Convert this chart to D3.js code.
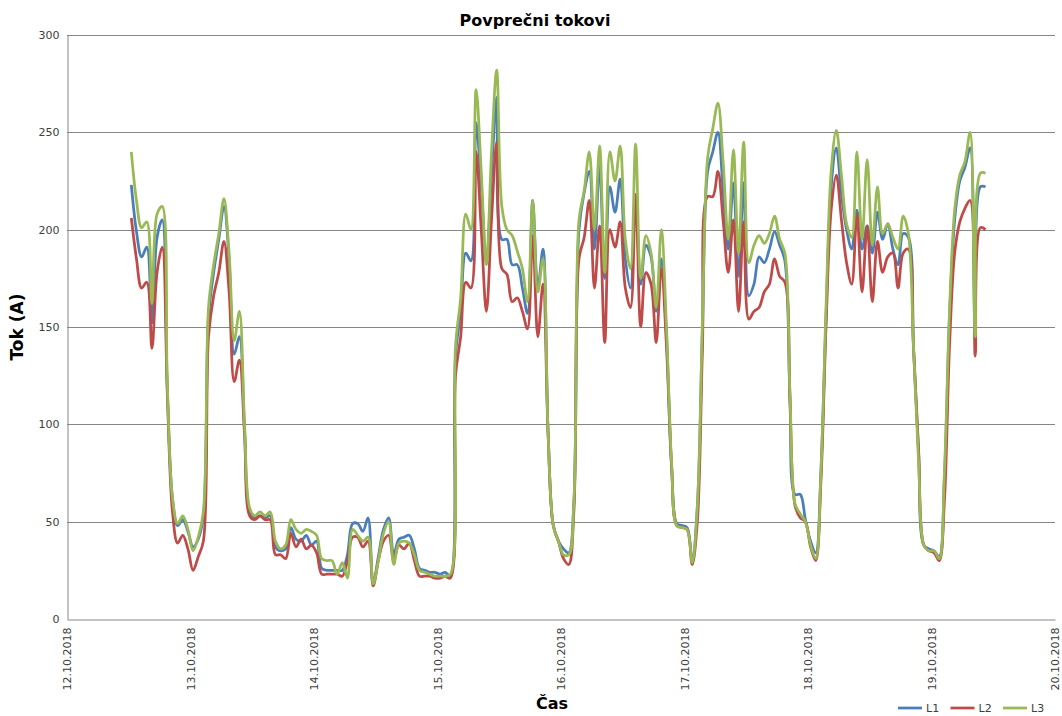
<!DOCTYPE html>
<html>
<head>
<meta charset="utf-8">
<script src="https://cdn.jsdelivr.net/npm/d3@7"></script>
<style>
  html, body { margin: 0; padding: 0; background: #fff; }
  svg { display: block; }
</style>
</head>
<body>
<svg id="chart" width="1062" height="716"></svg>
<script>
// Hourly average phase currents, first sample 12.10.2018 12:30
const seriesNames = ["L1", "L2", "L3"];
const seriesColors = ["#4a7ebb", "#be4b48", "#98b954"];
const yTicks = [0, 50, 100, 150, 200, 250, 300];
const dayTicks = ["12.10.2018", "13.10.2018", "14.10.2018", "15.10.2018", "16.10.2018", "17.10.2018", "18.10.2018", "19.10.2018", "20.10.2018"];

const L1 = [223,199,186,191,152,196,205,118,62,48,51,45,37,41,53,155,178,195,212,185,136,145,98,55,52,53,52,53,37,35,
  36,47,41,40,43,38,40,26,25,25,25,25,33,49,49,45,52,18,32,46,52,33,41,42,43,36,26,25,24,24,
  23,24,22,135,158,188,184,255,222,183,228,268,195,195,182,182,170,157,215,170,190,95,48,40,36,34,60,200,219,230,
  190,233,175,222,209,226,185,170,218,172,192,186,158,185,145,78,49,48,47,30,58,150,230,240,250,220,190,224,176,224,
  166,172,186,183,190,199,192,184,115,64,64,51,40,34,75,155,222,242,218,200,190,210,190,202,188,209,195,203,190,182,
  198,196,140,85,38,36,35,32,72,155,205,225,232,242,145,222,222];
const L2 = [206,185,170,173,139,178,191,115,55,39,43,36,25,32,40,145,166,178,194,168,122,133,95,53,51,53,51,51,33,33,
  31,44,37,41,36,38,34,23,23,23,23,22,30,42,42,37,40,17,30,40,43,30,38,36,39,30,22,22,22,21,
  21,22,21,125,145,173,170,240,200,158,205,245,180,177,163,165,158,149,197,145,172,95,48,40,31,28,55,185,196,215,
  170,202,142,200,191,204,170,160,218,150,178,172,142,180,140,78,48,47,46,28,50,140,217,217,230,205,178,205,158,204,
  154,158,160,168,172,185,176,173,110,58,52,50,37,30,70,150,210,228,205,183,172,208,168,202,163,194,178,186,188,170,
  188,190,140,86,38,35,34,30,60,140,188,204,211,215,135,201,200];
const L3 = [240,215,201,204,162,208,212,120,62,49,53,46,35,42,55,160,182,198,216,188,143,158,100,57,53,55,53,55,40,36,
  38,51,46,44,46,45,43,31,30,30,23,29,21,46,43,40,42,18,30,44,50,28,39,40,39,33,25,24,23,22,
  22,22,23,140,165,208,200,272,230,182,240,282,212,200,197,189,180,163,215,168,185,95,48,40,33,33,60,205,220,240,
  200,243,178,240,225,243,195,180,244,175,197,188,160,200,150,80,48,47,46,29,58,155,237,252,265,235,195,241,188,245,
  183,192,197,193,198,207,195,188,115,59,54,50,38,31,75,160,230,251,228,203,196,240,195,236,192,222,198,203,196,190,
  207,198,140,80,38,35,35,31,75,158,210,228,235,250,145,229,229];

const seriesValues = [L1, L2, L3];
const firstSample = new Date(2018, 9, 12, 12, 30);
const times = L1.map((_, i) => d3.timeHour.offset(firstSample, i));

const svg = d3.select("#chart");
const plot = { left: 67, right: 1055, top: 35, bottom: 619 };

const x = d3.scaleTime()
  .domain([new Date(2018, 9, 12), new Date(2018, 9, 20)])
  .range([plot.left, plot.right]);
const y = d3.scaleLinear().domain([0, 300]).range([plot.bottom, plot.top]);

const parseDay = d3.timeParse("%d.%m.%Y");
const axisColor = "#868686";
const labelFont = "'DejaVu Sans', Verdana, sans-serif";
const boldFont = "'DejaVu Sans', Verdana, sans-serif";

// horizontal gridlines
svg.append("g")
  .selectAll("line")
  .data(yTicks.filter(d => d > 0))
  .join("line")
  .attr("x1", plot.left).attr("x2", plot.right)
  .attr("y1", d => Math.round(y(d)) + 0.5).attr("y2", d => Math.round(y(d)) + 0.5)
  .attr("stroke", axisColor).attr("stroke-width", 1);

// y axis
const yAxis = svg.append("g")
  .attr("transform", `translate(${plot.left + 0.5},0)`)
  .call(d3.axisLeft(y).tickValues(yTicks).tickSize(0).tickPadding(8));
yAxis.select(".domain").attr("stroke", axisColor);
yAxis.selectAll("text")
  .attr("font-family", labelFont).attr("font-size", 11).attr("fill", "#404040");

// x axis
const xAxis = svg.append("g")
  .attr("transform", `translate(0,${plot.bottom + 0.5})`)
  .call(d3.axisBottom(x)
    .tickValues(dayTicks.map(parseDay))
    .tickFormat(d3.timeFormat("%d.%m.%Y"))
    .tickSize(0));
xAxis.select(".domain").attr("stroke", axisColor);
xAxis.selectAll("text")
  .attr("font-family", labelFont).attr("font-size", 11).attr("fill", "#404040")
  .attr("text-anchor", "end")
  .attr("dy", "0.35em")
  .attr("transform", "translate(0,8) rotate(-90)")
  .attr("x", 0).attr("y", 0);

// series lines
const line = d3.line()
  .x((d, i) => x(times[i]))
  .y(d => y(d))
  .curve(d3.curveCatmullRom.alpha(0.5));

svg.append("g")
  .selectAll("path")
  .data(seriesValues)
  .join("path")
  .attr("d", d => line(d))
  .attr("fill", "none")
  .attr("stroke", (d, i) => seriesColors[i])
  .attr("stroke-width", 2.75)
  .attr("stroke-linejoin", "round");

// titles
svg.append("text")
  .attr("x", 535).attr("y", 26)
  .attr("text-anchor", "middle")
  .attr("font-family", boldFont).attr("font-weight", "bold").attr("font-size", 16)
  .attr("fill", "#000")
  .text("Povprečni tokovi");

svg.append("text")
  .attr("transform", `translate(23,${(plot.top + plot.bottom) / 2}) rotate(-90)`)
  .attr("text-anchor", "middle")
  .attr("font-family", boldFont).attr("font-weight", "bold").attr("font-size", 17)
  .attr("fill", "#000")
  .text("Tok (A)");

svg.append("text")
  .attr("x", 552).attr("y", 709)
  .attr("text-anchor", "middle")
  .attr("font-family", boldFont).attr("font-weight", "bold").attr("font-size", 16)
  .attr("fill", "#000")
  .text("Čas");

// legend
const legend = svg.append("g")
  .selectAll("g")
  .data(seriesNames)
  .join("g")
  .attr("transform", (d, i) => `translate(${898 + i * 52.5},708)`);
legend.append("line")
  .attr("x1", 0).attr("x2", 24).attr("y1", 0).attr("y2", 0)
  .attr("stroke", (d, i) => seriesColors[i]).attr("stroke-width", 2.75);
legend.append("text")
  .attr("x", 28).attr("y", 0).attr("dy", "0.35em")
  .attr("font-family", labelFont).attr("font-size", 11).attr("fill", "#404040")
  .text(d => d);
</script>
</body>
</html>
